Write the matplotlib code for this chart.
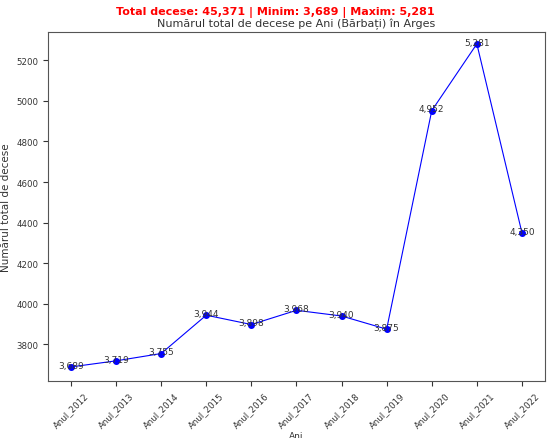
import matplotlib
matplotlib.use("Agg")
import matplotlib.pyplot as plt

years = ["Anul_2012","Anul_2013","Anul_2014","Anul_2015","Anul_2016","Anul_2017","Anul_2018","Anul_2019","Anul_2020","Anul_2021","Anul_2022"]
deaths = [3689,3719,3755,3944,3898,3968,3940,3875,4952,5281,4350]

fig = plt.figure(figsize=(5.5,4.39), dpi=100)
ax = fig.add_axes([0.088, 0.13, 0.902, 0.795])
ax.plot(years, deaths, color="blue", marker="o", markersize=4, linewidth=0.8)
for x, y in zip(years, deaths):
    ax.annotate(f"{y:,}", (x, y), xytext=(0, -2), textcoords="offset points",
                ha="center", va="bottom", fontsize=6.5, color="#333333")
ax.set_title("Numărul total de decese pe Ani (Bărbați) în Arges", fontsize=8, color="#333333", pad=4)
fig.text(0.5, 0.985, f"Total decese: {sum(deaths):,} | Minim: {min(deaths):,} | Maxim: {max(deaths):,}",
         ha="center", va="top", color="red", fontsize=8, fontweight="bold")
ax.set_xlabel("Ani", fontsize=6.5, color="#333333", labelpad=1)
ax.set_ylabel("Numărul total de decese", fontsize=7.5, color="#333333")
ax.tick_params(labelsize=6.2, colors="#333333")
plt.setp(ax.get_xticklabels(), rotation=45)
for s in ax.spines.values():
    s.set_color("#555555")
ax.set_ylim(3620, 5340)
ax.set_yticks(range(3800, 5201, 200))
ax.set_xlim(-0.5, 10.5)
fig.savefig("out.png", dpi=100)
